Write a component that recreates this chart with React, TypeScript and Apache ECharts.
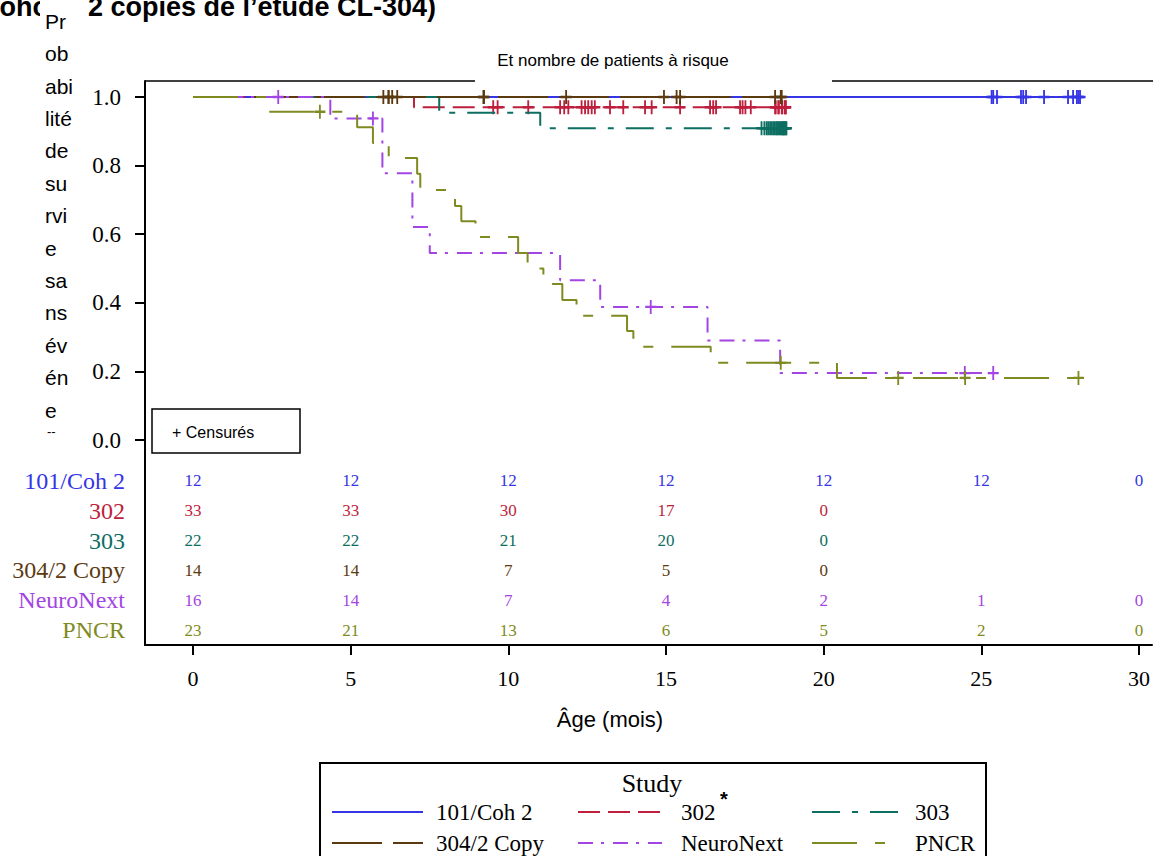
import React, { useEffect, useRef } from 'react';
import * as echarts from 'echarts';

// ---------- data ----------
const studies = ['101/Coh 2', '302', '303', '304/2 Copy', 'NeuroNext', 'PNCR'];
const colors = ['#3535e6', '#bd1f3c', '#0d6e62', '#5c3a10', '#a345e2', '#7f8b20'];

// Kaplan-Meier step curves (time in months, survival probability)
const cohT = [0, 28.2];
const cohV = [1, 1];
const s302T = [0, 7.0, 18.9];
const s302V = [1, 0.97, 0.97];
const s303T = [0, 7.8, 11.0, 18.9];
const s303V = [1, 0.954, 0.909, 0.909];
const s304T = [0, 18.75];
const s304V = [1, 1];
const neuroT = [0, 4.35, 6.0, 6.95, 7.5, 11.63, 12.9, 16.3, 18.6, 25.45];
const neuroV = [1, 0.9375, 0.778, 0.621, 0.545, 0.466, 0.388, 0.29, 0.195, 0.195];
const pncrT = [0, 2.4, 5.2, 5.7, 6.2, 7.1, 7.2, 8.3, 8.5, 8.95, 10.3, 10.6, 11.1, 11.7, 12.15, 13.75, 13.95, 16.4, 20.4, 28.25];
const pncrV = [1, 0.957, 0.912, 0.866, 0.822, 0.776, 0.729, 0.682, 0.638, 0.592, 0.545, 0.5, 0.455, 0.408, 0.362, 0.318, 0.272, 0.225, 0.181, 0.181];

// censored times
const cohC = [25.3, 25.35, 25.47, 26.23, 26.3, 26.39, 26.96, 27.72, 27.88, 28.0, 28.05, 28.1];
const s302C = [9.51, 9.65, 10.62, 11.63, 11.76, 11.89, 12.31, 12.42, 12.52, 12.63, 12.73, 13.21, 13.63, 14.32, 14.53,
  15.43, 16.38, 16.48, 16.57, 17.33, 17.41, 17.5, 17.67, 18.44, 18.46, 18.54, 18.56, 18.65, 18.67, 18.75, 18.77, 18.78];
const s303C = [18.01, 18.1, 18.17, 18.22, 18.28, 18.33, 18.38, 18.42, 18.47, 18.5, 18.54, 18.58, 18.62, 18.65, 18.68,
  18.7, 18.72, 18.75, 18.78, 18.8];
const s304C = [6.03, 6.19, 6.2, 6.31, 6.47, 9.2, 9.22, 11.82, 14.92, 15.32, 15.43, 18.44, 18.62, 18.65];
const neuroC = [2.7, 5.7, 14.5, 24.45, 25.35];
const pncrC = [4.02, 18.62, 22.34, 24.46, 28.05];

// number at risk
const riskTimes = [0, 5, 10, 15, 20, 25, 30];
const riskCoh = [12, 12, 12, 12, 12, 12, 0];
const risk302 = [33, 33, 30, 17, 0];
const risk303 = [22, 22, 21, 20, 0];
const risk304 = [14, 14, 7, 5, 0];
const riskNeuro = [16, 14, 7, 4, 2, 1, 0];
const riskPncr = [23, 21, 13, 6, 5, 2, 0];

const xTicks = [0, 5, 10, 15, 20, 25, 30];
const yTicks = [0, 0.2, 0.4, 0.6, 0.8, 1.0];

const curveT = [cohT, s302T, s303T, s304T, neuroT, pncrT];
const curveV = [cohV, s302V, s303V, s304V, neuroV, pncrV];
const censors = [cohC, s302C, s303C, s304C, neuroC, pncrC];
const risks = [riskCoh, risk302, risk303, risk304, riskNeuro, riskPncr];
const dashes: any[] = ['solid', [22, 8], [28, 12, 6, 12], [50, 11], [15, 8, 3, 9], [45, 18, 10, 18]];

const SERIF = '"Liberation Serif", "Times New Roman", serif';
const SANS = '"Liberation Sans", Arial, sans-serif';

function stepValue(T: number[], V: number[], t: number) {
  let v = V[0];
  for (let i = 0; i < T.length; i++) if (T[i] <= t) v = V[i];
  return v;
}

const PLUS = 'path://M5,0L7,0L7,5L12,5L12,7L7,7L7,12L5,12L5,7L0,7L0,5L5,5Z';

function buildOption() {
  const X_MIN = (145 - 193) / 31.567;
  const X_MAX = (1153 - 193) / 31.567;
  const black = { color: '#000', width: 2 };

  const lineSeries = studies.map((s, i) => ({
    type: 'line',
    name: s,
    xAxisIndex: 0,
    yAxisIndex: 0,
    step: 'end',
    symbol: 'none',
    silent: true,
    z: 2 + i,
    data: curveT[i].map((t, j) => [t, curveV[i][j]]),
    lineStyle: { color: colors[i], width: 2, type: dashes[i] },
    itemStyle: { color: colors[i] },
  }));

  const censorSeries = studies.map((s, i) => ({
    type: 'scatter',
    name: s + ' (censuré)',
    xAxisIndex: 0,
    yAxisIndex: 0,
    symbol: PLUS,
    symbolSize: [11, 14],
    silent: true,
    z: 2 + i,
    data: censors[i].map((t) => [t, stepValue(curveT[i], curveV[i], t)]),
    itemStyle: { color: colors[i], opacity: 1 },
  }));

  const riskSeries = studies.map((s, i) => ({
    type: 'scatter',
    name: s + ' (à risque)',
    xAxisIndex: 1,
    yAxisIndex: 1,
    symbolSize: 1,
    silent: true,
    data: risks[i].map((n, j) => [riskTimes[j], s, n]),
    itemStyle: { color: 'transparent', opacity: 1 },
    label: {
      show: true,
      position: 'inside',
      formatter: (p: any) => String(p.value[2]),
      color: colors[i],
      opacity: 1,
      fontFamily: SERIF,
      fontSize: 17,
    },
  }));

  const colX = [331, 577, 811];
  const colW = [91, 84, 90];
  const colPad = [8, 14, 8];
  const rowC = [812, 843];
  const legends = studies.map((s, i) => ({
    data: [s],
    left: colX[i % 3],
    top: rowC[Math.floor(i / 3)] - 11.5,
    padding: 0,
    itemWidth: colW[i % 3],
    itemHeight: 14,
    selectedMode: false,
    itemStyle: { color: 'rgba(0,0,0,0)', borderColor: 'rgba(0,0,0,0)', borderWidth: 0, opacity: 0 },
    textStyle: { fontFamily: SERIF, fontSize: 23, color: '#000', padding: [0, 0, 0, colPad[i % 3]] },
  }));

  const yLabelLines = ['Pr', 'ob', 'abi', 'lité', 'de', 'su', 'rvi', 'e', 'sa', 'ns', 'év', 'én', 'e'];

  return {
    animation: false,
    backgroundColor: '#fff',
    grid: [
      { left: 145, top: 81, width: 1008, height: 385 },
      { left: 145, top: 466, width: 1008, height: 179 },
    ],
    xAxis: [
      { gridIndex: 0, type: 'value', min: X_MIN, max: X_MAX, show: false },
      {
        gridIndex: 1,
        type: 'value',
        min: X_MIN,
        max: X_MAX,
        axisLine: { show: true, onZero: false, lineStyle: black },
        axisTick: { show: true, length: 10, customValues: xTicks, lineStyle: black },
        axisLabel: { customValues: xTicks, fontFamily: SERIF, fontSize: 22, color: '#000', margin: 22 },
        splitLine: { show: false },
      },
    ],
    yAxis: [
      {
        gridIndex: 0,
        type: 'value',
        min: -26 / 343,
        max: 1 + 16 / 343,
        axisLine: { show: true, onZero: false, lineStyle: black },
        axisTick: { show: true, length: 10, customValues: yTicks, lineStyle: black },
        axisLabel: {
          customValues: yTicks,
          formatter: (v: number) => v.toFixed(1),
          fontFamily: SERIF,
          fontSize: 23,
          color: '#000',
          margin: 24,
        },
        splitLine: { show: false },
      },
      {
        gridIndex: 1,
        type: 'category',
        data: studies,
        inverse: true,
        axisLine: { show: true, onZero: false, lineStyle: black },
        axisTick: { show: false },
        axisLabel: {
          interval: 0,
          color: (_v: any, idx: number) => colors[idx],
          fontFamily: SERIF,
          fontSize: 24,
          margin: 20,
        },
        splitLine: { show: false },
      },
    ],
    legend: legends,
    series: [...lineSeries, ...censorSeries, ...riskSeries],
    graphic: [
      // title (partially hidden)
      { type: 'text', x: 49, y: 6.5, style: { text: 'Coho', fill: '#000', font: `bold 27px ${SANS}`, align: 'right', verticalAlign: 'middle' } },
      { type: 'text', x: 88, y: 6.5, style: { text: '2 copies de l’étude CL-304)', fill: '#000', font: `bold 27px ${SANS}`, align: 'left', verticalAlign: 'middle' } },
      { type: 'rect', shape: { x: 40, y: 0, width: 46, height: 32 }, style: { fill: '#fff' } },
      // y axis title
      { type: 'text', x: 45, y: 5, style: { text: yLabelLines.join('\n'), fill: '#000', font: `21px ${SANS}`, lineHeight: 32.4, verticalAlign: 'top' } },
      { type: 'text', x: 47, y: 431, style: { text: '--', fill: '#000', font: `13px ${SANS}`, verticalAlign: 'middle' } },
      // top frame line with gap
      { type: 'line', shape: { x1: 145, y1: 81, x2: 475, y2: 81 }, style: { stroke: '#000', lineWidth: 1.5 } },
      { type: 'line', shape: { x1: 832, y1: 81, x2: 1153, y2: 81 }, style: { stroke: '#000', lineWidth: 1.5 } },
      { type: 'text', x: 613, y: 60, style: { text: 'Et nombre de patients à risque', fill: '#000', font: `17px ${SANS}`, align: 'center', verticalAlign: 'middle' } },
      // censored box
      { type: 'rect', shape: { x: 152, y: 409, width: 148, height: 44 }, style: { fill: '#fff', stroke: '#000', lineWidth: 1.5 }, z: 10 },
      { type: 'text', x: 172, y: 432, z: 11, style: { text: '+ Censurés', fill: '#000', font: `16px ${SANS}`, verticalAlign: 'middle' } },
      // x axis title
      { type: 'text', x: 610, y: 719, style: { text: 'Âge (mois)', fill: '#000', font: `22px ${SANS}`, align: 'center', verticalAlign: 'middle' } },
      // legend box
      { type: 'rect', shape: { x: 320, y: 763, width: 666, height: 120 }, style: { fill: 'none', stroke: '#000', lineWidth: 2 } },
      { type: 'text', x: 652, y: 783, style: { text: 'Study', fill: '#000', font: `26px ${SERIF}`, align: 'center', verticalAlign: 'middle' } },
      { type: 'text', x: 724, y: 799, style: { text: '*', fill: '#000', font: `bold 20px ${SANS}`, align: 'center', verticalAlign: 'middle' } },
    ],
  };
}

export default function App() {
  const ref = useRef<HTMLDivElement>(null);
  useEffect(() => {
    const chart = echarts.init(ref.current!, null, { renderer: 'svg' });
    chart.setOption(buildOption() as any);
    return () => chart.dispose();
  }, []);
  return (
    <div
      ref={ref}
      style={{ position: 'absolute', left: 0, top: 0, width: 1153, height: 856, background: '#fff' }}
    />
  );
}
